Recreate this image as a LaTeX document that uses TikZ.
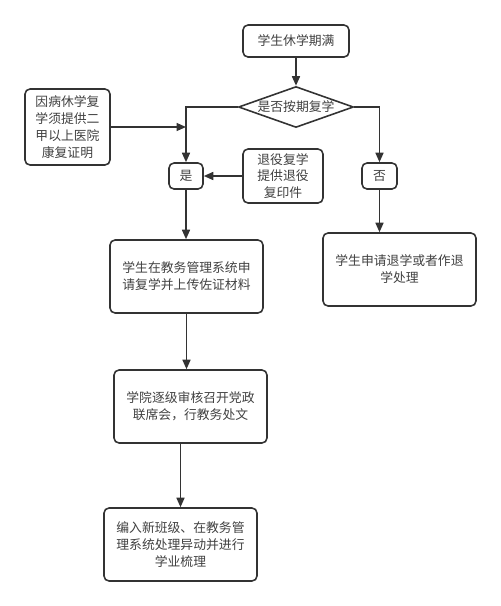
\documentclass[tikz,border=0pt]{standalone}
\usepackage{fontspec}
\setmainfont{Noto Sans CJK SC}
\usetikzlibrary{shapes.geometric,arrows.meta}

\tikzset{
  box/.style={draw=black!80, rounded corners=1mm, line width=0.9pt, align=center,
    text=black!75, font=\fontsize{7.3}{9.6}\selectfont, inner sep=1pt},
  decide/.style={draw=black!80, diamond, aspect=2.8, inner sep=0pt, line width=0.9pt,
    text=black!75, font=\fontsize{7.3}{9.6}\selectfont, minimum width=2.3cm, minimum height=0.82cm},
  flow/.style={draw=black!80, line width=0.9pt, -{Triangle[length=1.9mm,width=1.6mm]}}
}

\begin{document}
\begin{tikzpicture}[x=0.02cm,y=-0.02cm]
\useasboundingbox (0,0) rectangle (501,606);
\node[box,minimum width=2.12cm,minimum height=0.64cm] (start) at (296,41) {学生休学期满};
\node[decide] (ask) at (296,107) {是否按期复学};
\node[box,minimum width=1.7cm,minimum height=1.52cm] (ill) at (67.5,127) {因病休学复\\学须提供二\\甲以上医院\\康复证明};
\node[box,minimum width=0.68cm,minimum height=0.52cm] (yes) at (186,176) {是};
\node[box,minimum width=1.6cm,minimum height=1.08cm] (army) at (283,176) {退役复学\\提供退役\\复印件};
\node[box,minimum width=0.7cm,minimum height=0.52cm] (no) at (379.5,176) {否};
\node[box,minimum width=3.06cm,minimum height=1.46cm] (quit) at (399.5,269.5) {学生申请退学或者作退\\学处理};
\node[box,minimum width=3.06cm,minimum height=1.46cm] (apply) at (186.5,276.5) {学生在教务管理系统申\\请复学并上传佐证材料};
\node[box,minimum width=3.06cm,minimum height=1.46cm] (review) at (190.5,406.5) {学院逐级审核召开党政\\联席会，行教务处文};
\node[box,minimum width=3.06cm,minimum height=1.46cm] (final) at (180.5,544.5) {编入新班级、在教务管\\理系统处理异动并进行\\学业梳理};

% connectors
\draw[flow] (start) -- (ask);
\draw[flow] (ask.west) -| (yes.north);
\draw[flow] (ask.east) -| (no.north);
\draw[flow] (ill.east) -- (ill.east -| yes.north);
\draw[flow] (army.west) -- (yes.east);
\draw[flow] (no.south) -- (no.south |- quit.north);
\draw[flow] (yes.south) -- (yes.south |- apply.north);
\draw[flow] (apply.south) -- (apply.south |- review.north);
\draw[flow] (final.north |- review.south) -- (final.north);
\end{tikzpicture}
\end{document}
